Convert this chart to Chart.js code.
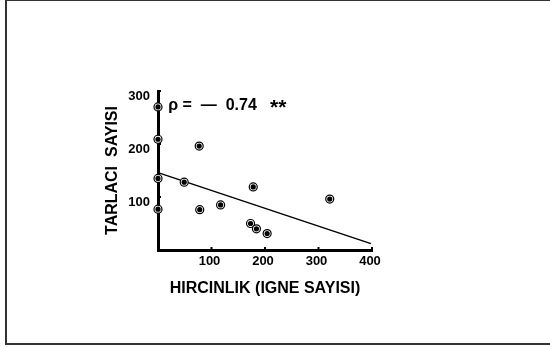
<!DOCTYPE html>
<html>
<head>
<meta charset="utf-8">
<script src="https://cdn.jsdelivr.net/npm/chart.js@4/dist/chart.umd.min.js"></script>
<style>
  html, body { margin: 0; padding: 0; background: #fff; overflow: hidden; }
  #wrap { position: relative; width: 550px; height: 347px; overflow: hidden; }
  #frame { position: absolute; left: 5px; top: 0; width: 600px; height: 342px;
           border-top: 1px solid #333; border-left: 2px solid #333; border-bottom: 2px solid #333; }
  canvas { position: absolute; left: 0; top: 0; }
</style>
</head>
<body>
<div id="wrap">
  <div id="frame"></div>
  <canvas id="grafico" width="550" height="347"></canvas>
</div>
<script>
// Hırçınlık (iğne sayısı) vs tarlacı sayısı
const hircinlik = [0, 0, 0, 0, 49, 77, 78, 117, 173, 178, 184, 204, 321];
const tarlaci   = [270, 209, 135, 77, 128, 196, 76, 85, 50, 119, 40, 31, 96];
const egriX = [0, 398];
const egriY = [146, 12];
const xTicks = [100, 200, 300, 400];
const yTicks = [100, 200, 300];
const etiket = 'ρ =  —  0.74';
const yildiz = '**';

const fontAile = '"Liberation Sans", Arial, sans-serif';

const noktalar = hircinlik.map((x, i) => ({ x: x, y: tarlaci[i] }));
const egri = egriX.map((x, i) => ({ x: x, y: egriY[i] }));

const ekstraCizim = {
  id: 'ekstraCizim',
  afterDraw(chart) {
    const ctx = chart.ctx;
    const sx = chart.scales.x, sy = chart.scales.y;
    ctx.save();
    ctx.strokeStyle = '#000';
    ctx.lineWidth = 2;
    // küçük iç çentikler
    xTicks.forEach(v => {
      const px = sx.getPixelForValue(v);
      ctx.beginPath(); ctx.moveTo(px, sy.bottom); ctx.lineTo(px, sy.bottom - 3); ctx.stroke();
    });
    yTicks.forEach(v => {
      const py = sy.getPixelForValue(v);
      ctx.beginPath(); ctx.moveTo(sx.left, py); ctx.lineTo(sx.left + 3, py); ctx.stroke();
    });
    // rho yazısı
    const x0 = sx.getPixelForValue(19), y0 = sy.getPixelForValue(273);
    ctx.fillStyle = '#000';
    ctx.textAlign = 'left';
    ctx.textBaseline = 'middle';
    ctx.font = 'bold 16px ' + fontAile;
    ctx.fillText(etiket, x0, y0);
    const w = ctx.measureText(etiket + '   ').width;
    ctx.font = 'bold 21px ' + fontAile;
    ctx.fillText(yildiz, x0 + w, y0 + 3);
    ctx.restore();
  }
};

// not: Chart.js ilk dataset'i en üste çizer
new Chart(document.getElementById('grafico').getContext('2d'), {
  type: 'scatter',
  data: {
    datasets: [
      {
        // iç dolu nokta
        data: noktalar,
        pointStyle: 'circle',
        pointRadius: 2.6,
        backgroundColor: '#000',
        borderColor: '#000',
        borderWidth: 0,
        clip: false
      },
      {
        // dış halka
        data: noktalar,
        pointStyle: 'circle',
        pointRadius: 4,
        backgroundColor: '#fff',
        borderColor: '#000',
        borderWidth: 1.2,
        clip: false
      },
      {
        type: 'line',
        data: egri,
        borderColor: '#000',
        borderWidth: 1.5,
        pointRadius: 0,
        clip: false
      }
    ]
  },
  options: {
    responsive: false,
    animation: false,
    layout: { padding: { left: 103, right: 178, top: 91, bottom: 49 } },
    plugins: { legend: { display: false }, tooltip: { enabled: false } },
    scales: {
      x: {
        type: 'linear',
        min: 0, max: 400,
        afterFit: s => { s.height = 48; },
        afterBuildTicks: s => { s.ticks = [0].concat(xTicks).map(v => ({ value: v })); },
        ticks: {
          callback: v => v === 0 ? '' : String(v),
          color: '#000',
          font: { family: fontAile, size: 13, weight: 'bold' },
          padding: 4,
          labelOffset: -2,
          maxRotation: 0
        },
        grid: { drawOnChartArea: false, drawTicks: false },
        border: { color: '#000', width: 3 },
        title: {
          display: true,
          text: 'HIRCINLIK (IGNE SAYISI)',
          color: '#000',
          font: { family: fontAile, size: 16, weight: 'bold' },
          padding: { top: 0, bottom: 0 }
        }
      },
      y: {
        type: 'linear',
        min: 0, max: 300,
        afterFit: s => { s.width = 55; },
        afterBuildTicks: s => { s.ticks = [0].concat(yTicks).map(v => ({ value: v })); },
        ticks: {
          callback: v => v === 0 ? '' : String(v),
          color: '#000',
          font: { family: fontAile, size: 13, weight: 'bold' },
          padding: 8,
          labelOffset: 5
        },
        grid: { drawOnChartArea: false, drawTicks: false },
        border: { color: '#000', width: 3 },
        title: {
          display: true,
          text: 'TARLACI  SAYISI',
          color: '#000',
          font: { family: fontAile, size: 16, weight: 'bold' },
          padding: { top: 0, bottom: 0 }
        }
      }
    }
  },
  plugins: [ekstraCizim]
});
</script>
</body>
</html>
